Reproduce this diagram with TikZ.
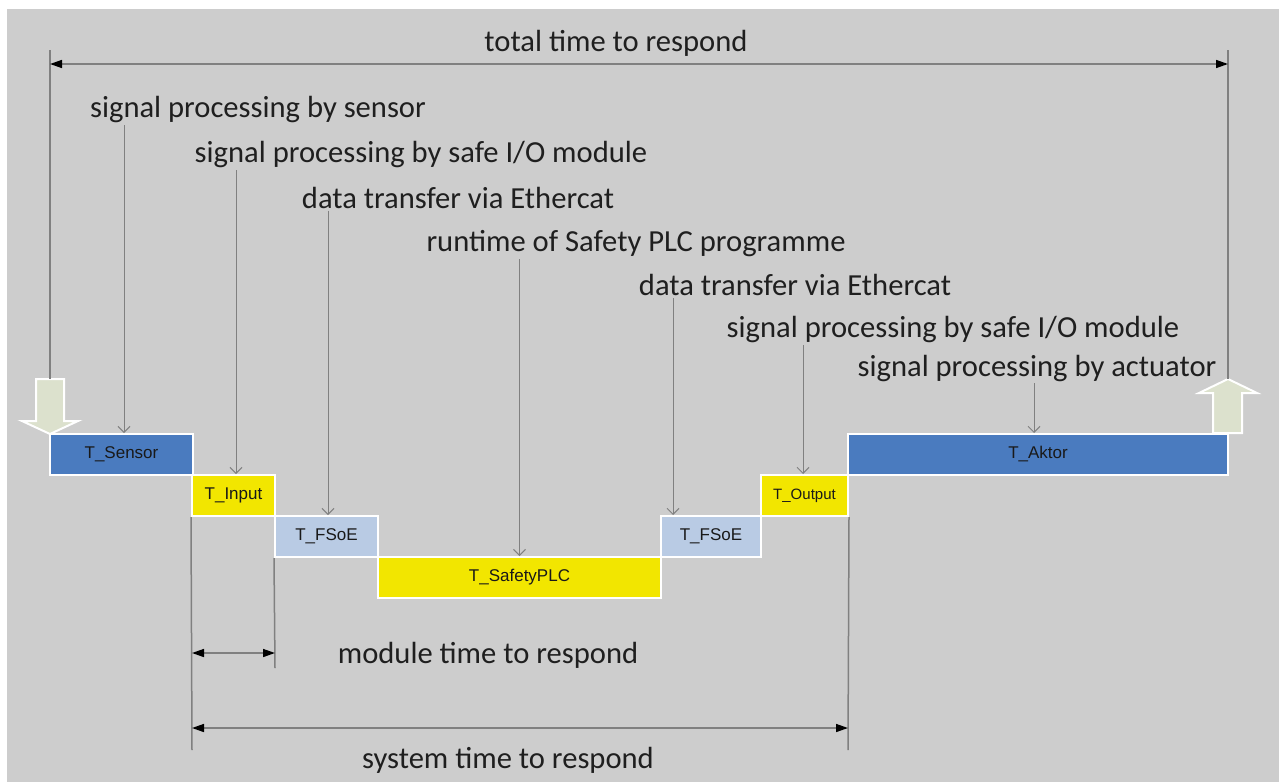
\documentclass[tikz,border=0pt]{standalone}
\usepackage{fontspec}
\setmainfont{Carlito}
\newfontfamily\arialfont{Liberation Sans}
\usetikzlibrary{arrows.meta}
\definecolor{bg}{HTML}{CDCDCD}
\definecolor{dblue}{HTML}{4A7BBF}
\definecolor{lblue}{HTML}{B9CBE4}
\definecolor{yel}{HTML}{F2E600}
\definecolor{olive}{HTML}{DCE1CD}
\definecolor{lgray}{HTML}{808080}
\begin{document}
\begin{tikzpicture}[x=1pt,y=-1pt,
  box/.style={draw=white, line width=2pt, minimum height=41pt, inner sep=0pt,
    font=\arialfont\fontsize{17}{19}\selectfont, text=black!90},
  lab/.style={font=\fontsize{30.6}{34}\selectfont, text=black!88, inner sep=2pt},
  ptr/.style={draw=lgray, line width=1pt, -{Straight Barb[length=6pt,width=12pt]}},
  vline/.style={draw=lgray, line width=1.5pt},
  dim/.style={draw=lgray, line width=1.5pt,
    {Triangle[length=12pt,width=8pt,color=black]}-{Triangle[length=12pt,width=8pt,color=black]}},
  blockarrow/.style={fill=olive, draw=white, line width=2pt, line join=miter}]
\useasboundingbox (0,0) rectangle (1282,782);
\fill[white] (0,0) rectangle (1282,782);
\fill[bg] (7,9) rectangle (1279,782);

% boxes
\node[box, fill=dblue, minimum width=143pt] (sensor) at (121.5,454.5) {T\_Sensor};
\node[box, fill=yel, minimum width=83pt] (input) at (233.5,495.5) {T\_Input};
\node[box, fill=lblue, minimum width=103pt] (fsoeA) at (326.5,536.5) {T\_FSoE};
\node[box, fill=yel, minimum width=283pt] (plc) at (519.5,577.5) {T\_SafetyPLC};
\node[box, fill=lblue, minimum width=100pt] (fsoeB) at (711,536.5) {T\_FSoE};
\node[box, fill=yel, minimum width=87pt, font=\arialfont\fontsize{15}{17}\selectfont] (output) at (804.5,495.5) {T\_Output};
\node[box, fill=dblue, minimum width=380pt] (aktor) at (1038,454.5) {T\_Aktor};

% block arrows
\draw[blockarrow] (36,379) -- (64,379) -- (64,421) -- (78,421) -- (50,434) -- (22,421) -- (36,421) -- cycle;
\draw[blockarrow] (1213,433) -- (1213,393) -- (1199,393) -- (1228,379) -- (1257,393) -- (1242,393) -- (1242,433) -- cycle;
\coordinate (inTop) at (50,379);
\coordinate (outTop) at (1228,379);
\coordinate (tl) at (50,50);
\coordinate (tr) at (1228,50);

% total
\draw[vline] (tl) -- (inTop);
\draw[vline] (tr) -- (outTop);
\node[lab] (total) at (616,43) {total time to respond};
\draw[dim] (50,64) -- (1228,64);

% labels
\node[lab] (l1) at (258,110) {signal processing by sensor};
\node[lab] (l2) at (421,155) {signal processing by safe I/O module};
\node[lab] (l3) at (458,198) {data transfer via Ethercat};
\node[lab] (l4) at (636,244) {runtime of Safety PLC programme};
\node[lab] (l5) at (795,285) {data transfer via Ethercat};
\node[lab] (l6) at (953,330) {signal processing by safe I/O module};
\node[lab] (l7) at (1037,368) {signal processing by actuator};

\draw[ptr] (l1.south -| sensor.north) ++(2.5,0) -- ([xshift=2.5pt]sensor.north);
\draw[ptr] (l2.south -| input.north) ++(2.5,0) -- ([xshift=2.5pt]input.north);
\draw[ptr] (l3.south -| fsoeA.north) ++(1.5,0) -- ([xshift=1.5pt]fsoeA.north);
\draw[ptr] (l4.south -| plc.north) -- (plc.north);
\draw[ptr] (l5.south -| fsoeB.north) ++(-38,0) -- ([xshift=-38pt]fsoeB.north);
\draw[ptr] (l6.south -| output.north) ++(-1.5,0) -- ([xshift=-1.5pt]output.north);
\draw[ptr] (l7.south -| aktor.north) ++(-4,0) -- ([xshift=-4pt]aktor.north);

% bottom dimensions
\coordinate (b1) at (192,750);
\coordinate (b2) at (275,668);
\coordinate (b3) at (848,750);
\draw[vline] (input.south west) -- (b1);
\draw[vline] (fsoeA.south west) -- (b2);
\draw[vline] (output.south east) -- (b3);
\draw[dim] (192,653) -- (275,653);
\draw[dim] (192,728) -- (848,728);
\node[lab] (module) at (488,655) {module time to respond};
\node[lab] (system) at (508,760) {system time to respond};
\end{tikzpicture}
\end{document}
